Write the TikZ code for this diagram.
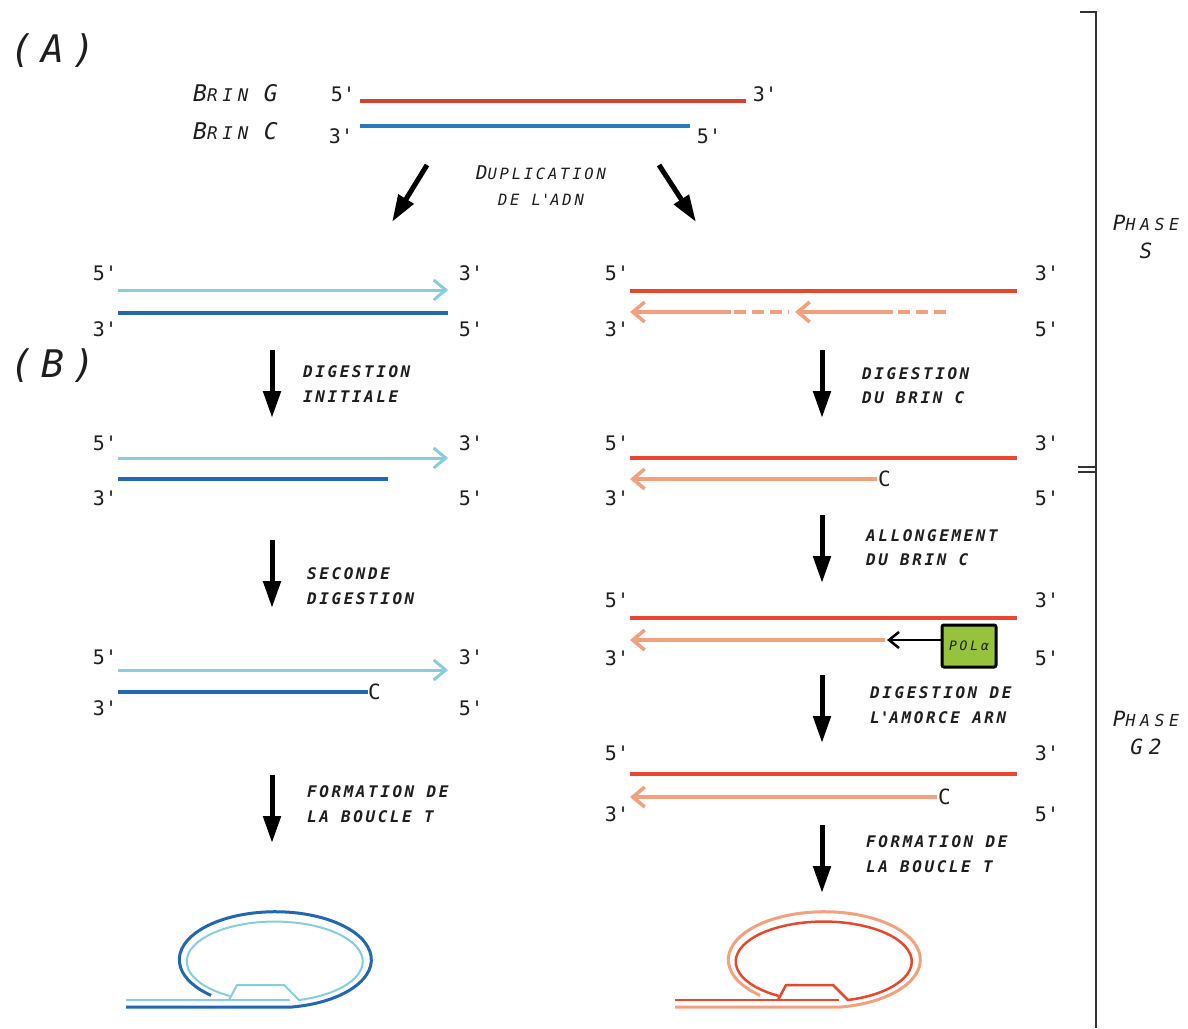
\documentclass[tikz,border=0pt]{standalone}
\usepackage{fontspec}
\usetikzlibrary{arrows.meta}

% fonts: mono for strand ends, spaced oblique mono for captions
\newfontfamily\endsfont{DejaVu Sans Mono}
\newfontfamily\stepfont[LetterSpace=16]{DejaVu Sans Mono}
\newfontfamily\headfont[LetterSpace=28]{DejaVu Sans Mono}
\newfontfamily\dupfont[LetterSpace=18]{DejaVu Sans Mono}
\newfontfamily\panelfont[LetterSpace=22]{DejaVu Sans Mono}
\newfontfamily\polfont[LetterSpace=22]{DejaVu Sans Mono}

\definecolor{ink}{HTML}{1E1E1E}
\definecolor{topred}{HTML}{D8402E}
\definecolor{topblue}{HTML}{2B78C2}
\definecolor{gred}{HTML}{E9472C}
\definecolor{csalmon}{HTML}{F4A07E}
\definecolor{glight}{HTML}{86CDE0}
\definecolor{cdark}{HTML}{2167B1}
\definecolor{polgreen}{HTML}{96C23C}
\definecolor{bracketgray}{HTML}{333333}

% small-caps look: large initial, smaller rest
\newcommand\capbig{\fontsize{23}{23}\selectfont}
\newcommand\capsml{\fontsize{17.5}{17.5}\selectfont}
\newcommand\dupbig{\fontsize{19}{19}\selectfont}
\newcommand\dupsml{\fontsize{15.5}{15.5}\selectfont}
\newcommand\phbig{\fontsize{21}{21}\selectfont}
\newcommand\phsml{\fontsize{16.5}{16.5}\selectfont}
\newcommand\qt{\textquotesingle}

\tikzset{
  endlbl/.style={font=\endsfont\fontsize{20}{20}\selectfont, text=ink, inner sep=0pt, anchor=base},
  clbl/.style={font=\endsfont\fontsize{21}{21}\selectfont, text=ink, inner sep=0pt, anchor=west},
  steplbl/.style={font=\stepfont\bfseries\itshape\fontsize{16}{16}\selectfont, text=ink, inner sep=0pt, anchor=base west},
  headlbl/.style={font=\headfont\itshape, text=ink, inner sep=0pt, anchor=base west},
  duplbl/.style={font=\dupfont\itshape, text=ink, inner sep=0pt, anchor=base},
  phaselbl/.style={font=\headfont\itshape, text=ink, inner sep=0pt, anchor=base},
  panellbl/.style={font=\panelfont\itshape\fontsize{38}{38}\selectfont, text=ink, inner sep=0pt, anchor=base west},
  stepdown/.style={draw=black, line width=5pt, -{Triangle[length=27pt,width=17pt]}},
  barb/.style={-{Straight Barb[length=12pt,width=20pt]}},
  topg/.style={draw=topred, line width=4pt},
  topc/.style={draw=topblue, line width=4pt},
  gstrand/.style={draw=gred, line width=4pt},
  cstrand/.style={draw=csalmon, line width=3.5pt},
  glstrand/.style={draw=glight, line width=3pt},
  cdstrand/.style={draw=cdark, line width=3.5pt},
  gapdash/.style={dash pattern=on 12pt off 6pt},
  polbox/.style={draw=black, line width=3pt, fill=polgreen, minimum width=54pt, minimum height=42pt, rounded corners=2pt, inner sep=0pt, font=\polfont\itshape\fontsize{13}{13}\selectfont, text=ink},
  polarrow/.style={draw=black, line width=2.5pt, -{Straight Barb[length=10pt,width=16pt]}},
  bracket/.style={draw=bracketgray, line width=2pt},
}

% t-loop: outer strand wraps round, inner strand invades with a D-loop
\newcommand\tloopdraw[4]{%
  \begin{scope}[xshift=#1]
    \draw[#2, line width=3pt] (126,1007) -- (292,1007)
      arc[start angle=80, end angle=-228, x radius=96, y radius=48];
    \draw[#3, line width=#4] (126,1000) -- (290,1000);
    \draw[#3, line width=#4] (229,1000) -- (237,985) -- (284,985) -- (299,1000)
      arc[start angle=74, end angle=-239, x radius=88, y radius=40];
  \end{scope}}

\begin{document}
\begin{tikzpicture}[x=1pt, y=-1pt]
\fill[white] (0,0) rectangle (1188,1028);
\useasboundingbox (0,0) rectangle (1188,1028);

% ---------- panel letters ----------
\node[panellbl] (pA) at (10,62) {(A)};
\node[panellbl] (pB) at (10,377) {(B)};

% ---------- parent duplex ----------
\node[headlbl] (brinG) at (193,101) {\capbig B\capsml RIN \capbig G};
\node[headlbl] (brinC) at (193,139) {\capbig B\capsml RIN \capbig C};
\node[endlbl] (t5a) at (343,101) {5\qt};
\node[endlbl] (t3a) at (341,143) {3\qt};
\node[endlbl] (t3b) at (765,101) {3\qt};
\node[endlbl] (t5b) at (709,143) {5\qt};
\draw[topg] (360,101) coordinate (tg5) -- (746,101) coordinate (tg3);
\draw[topc] (360,126) coordinate (tc3) -- (690,126) coordinate (tc5);

\node[duplbl] (dup1) at (541,179) {\dupbig D\dupsml UPLICATION};
\node[duplbl] (dup2) at (541,205) {\dupsml DE L\qt ADN};
\coordinate (dl0) at (427,165); \coordinate (dl1) at (392,222);
\coordinate (dr0) at (659,165); \coordinate (dr1) at (696,222);
\draw[stepdown] (dl0) -- (dl1);
\draw[stepdown] (dr0) -- (dr1);

% ---------- phase bracket ----------
\coordinate (bt0) at (1080,12); \coordinate (bt1) at (1096,12); \coordinate (bb) at (1096,1028);
\draw[bracket] (bt0) -- (bt1) -- (bb);
\coordinate (m1a) at (1078,467); \coordinate (m1b) at (1096,467);
\coordinate (m2a) at (1078,472); \coordinate (m2b) at (1096,472);
\draw[bracket] (m1a) -- (m1b);
\draw[bracket] (m2a) -- (m2b);
\node[phaselbl] (phS1) at (1146,230) {\phbig P\phsml HASE};
\node[phaselbl] (phS2) at (1146,258) {\phbig S};
\node[phaselbl] (phG1) at (1146,726) {\phbig P\phsml HASE};
\node[phaselbl] (phG2) at (1146,754) {\phbig G2};

% ---------- left column (leading strand product) ----------
% row 1
\node[endlbl] (l1a) at (105,280) {5\qt};
\node[endlbl] (l1b) at (471,280) {3\qt};
\node[endlbl] (l1c) at (105,336) {3\qt};
\node[endlbl] (l1d) at (471,336) {5\qt};
\draw[glstrand, barb] (118,290) coordinate (l1g5) -- (448,290) coordinate (l1g3);
\draw[cdstrand] (118,313) coordinate (l1c3) -- (448,313) coordinate (l1c5);
\coordinate (la0) at (272,350); \coordinate (la1) at (272,418);
\draw[stepdown] (la0) -- (la1);
\node[steplbl] (ls1a) at (303,377) {DIGESTION};
\node[steplbl] (ls1b) at (303,402) {INITIALE};
% row 2
\node[endlbl] (l2a) at (105,450) {5\qt};
\node[endlbl] (l2b) at (471,450) {3\qt};
\node[endlbl] (l2c) at (105,505) {3\qt};
\node[endlbl] (l2d) at (471,505) {5\qt};
\draw[glstrand, barb] (118,458) coordinate (l2g5) -- (448,458) coordinate (l2g3);
\draw[cdstrand] (118,479) coordinate (l2c3) -- (388,479) coordinate (l2c5);
\coordinate (lb0) at (272,540); \coordinate (lb1) at (272,608);
\draw[stepdown] (lb0) -- (lb1);
\node[steplbl] (ls2a) at (307,579) {SECONDE};
\node[steplbl] (ls2b) at (307,604) {DIGESTION};
% row 3
\node[endlbl] (l3a) at (105,664) {5\qt};
\node[endlbl] (l3b) at (471,664) {3\qt};
\node[endlbl] (l3c) at (105,715) {3\qt};
\node[endlbl] (l3d) at (471,715) {5\qt};
\draw[glstrand, barb] (118,670) coordinate (l3g5) -- (448,670) coordinate (l3g3);
\draw[cdstrand] (118,692) coordinate (l3c3) -- (368,692) coordinate (l3c5);
\node[clbl] (l3C) at (368,692) {C};
\coordinate (lc0) at (272,775); \coordinate (lc1) at (272,843);
\draw[stepdown] (lc0) -- (lc1);
\node[steplbl] (ls3a) at (307,797) {FORMATION DE};
\node[steplbl] (ls3b) at (307,822) {LA BOUCLE T};
% t-loop
\tloopdraw{0pt}{cdark}{glight}{2pt}

% ---------- right column (lagging strand product) ----------
% row 1
\node[endlbl] (r1a) at (617,280) {5\qt};
\node[endlbl] (r1b) at (1047,280) {3\qt};
\node[endlbl] (r1c) at (617,336) {3\qt};
\node[endlbl] (r1d) at (1047,336) {5\qt};
\draw[gstrand] (630,291) coordinate (r1g5) -- (1017,291) coordinate (r1g3);
\coordinate (r1s0) at (630,312); \coordinate (r1s1) at (731,312);
\coordinate (r1s2) at (734,312); \coordinate (r1s3) at (789,312);
\coordinate (r1s4) at (795,312); \coordinate (r1s5) at (893,312);
\coordinate (r1s6) at (898,312); \coordinate (r1s7) at (952,312);
\draw[cstrand, barb] (r1s1) -- (r1s0);
\draw[cstrand, gapdash] (r1s2) -- (r1s3);
\draw[cstrand, barb] (r1s5) -- (r1s4);
\draw[cstrand, gapdash] (r1s6) -- (r1s7);
\coordinate (ra0) at (822,350); \coordinate (ra1) at (822,418);
\draw[stepdown] (ra0) -- (ra1);
\node[steplbl] (rs1a) at (862,379) {DIGESTION};
\node[steplbl] (rs1b) at (862,403) {DU BRIN C};
% row 2
\node[endlbl] (r2a) at (617,450) {5\qt};
\node[endlbl] (r2b) at (1047,450) {3\qt};
\node[endlbl] (r2c) at (617,505) {3\qt};
\node[endlbl] (r2d) at (1047,505) {5\qt};
\draw[gstrand] (630,458) coordinate (r2g5) -- (1017,458) coordinate (r2g3);
\draw[cstrand, barb] (877,479) coordinate (r2c5) -- (630,479) coordinate (r2c3);
\node[clbl] (r2C) at (878,479) {C};
\coordinate (rb0) at (822,515); \coordinate (rb1) at (822,583);
\draw[stepdown] (rb0) -- (rb1);
\node[steplbl] (rs2a) at (866,541) {ALLONGEMENT};
\node[steplbl] (rs2b) at (866,565) {DU BRIN C};
% row 3
\node[endlbl] (r3a) at (617,607) {5\qt};
\node[endlbl] (r3b) at (1047,607) {3\qt};
\node[endlbl] (r3c) at (617,665) {3\qt};
\node[endlbl] (r3d) at (1047,665) {5\qt};
\draw[gstrand] (630,618) coordinate (r3g5) -- (1017,618) coordinate (r3g3);
\draw[cstrand, barb] (885,640) coordinate (r3c5) -- (630,640) coordinate (r3c3);
\node[polbox] (pol) at (969,646) {POLα};
\coordinate (polend) at (887,640);
\draw[polarrow] ([yshift=6pt]pol.west) -- (polend);
\coordinate (rc0) at (822,675); \coordinate (rc1) at (822,743);
\draw[stepdown] (rc0) -- (rc1);
\node[steplbl] (rs3a) at (870,698) {DIGESTION DE};
\node[steplbl] (rs3b) at (870,723) {L\qt AMORCE ARN};
% row 4
\node[endlbl] (r4a) at (617,760) {5\qt};
\node[endlbl] (r4b) at (1047,760) {3\qt};
\node[endlbl] (r4c) at (617,821) {3\qt};
\node[endlbl] (r4d) at (1047,821) {5\qt};
\draw[gstrand] (630,774) coordinate (r4g5) -- (1017,774) coordinate (r4g3);
\draw[cstrand, barb] (937,797) coordinate (r4c5) -- (630,797) coordinate (r4c3);
\node[clbl] (r4C) at (938,797) {C};
\coordinate (rd0) at (822,825); \coordinate (rd1) at (822,893);
\draw[stepdown] (rd0) -- (rd1);
\node[steplbl] (rs4a) at (866,847) {FORMATION DE};
\node[steplbl] (rs4b) at (866,872) {LA BOUCLE T};
% t-loop
\tloopdraw{549pt}{csalmon}{gred}{2.5pt}

\end{tikzpicture}
\end{document}
